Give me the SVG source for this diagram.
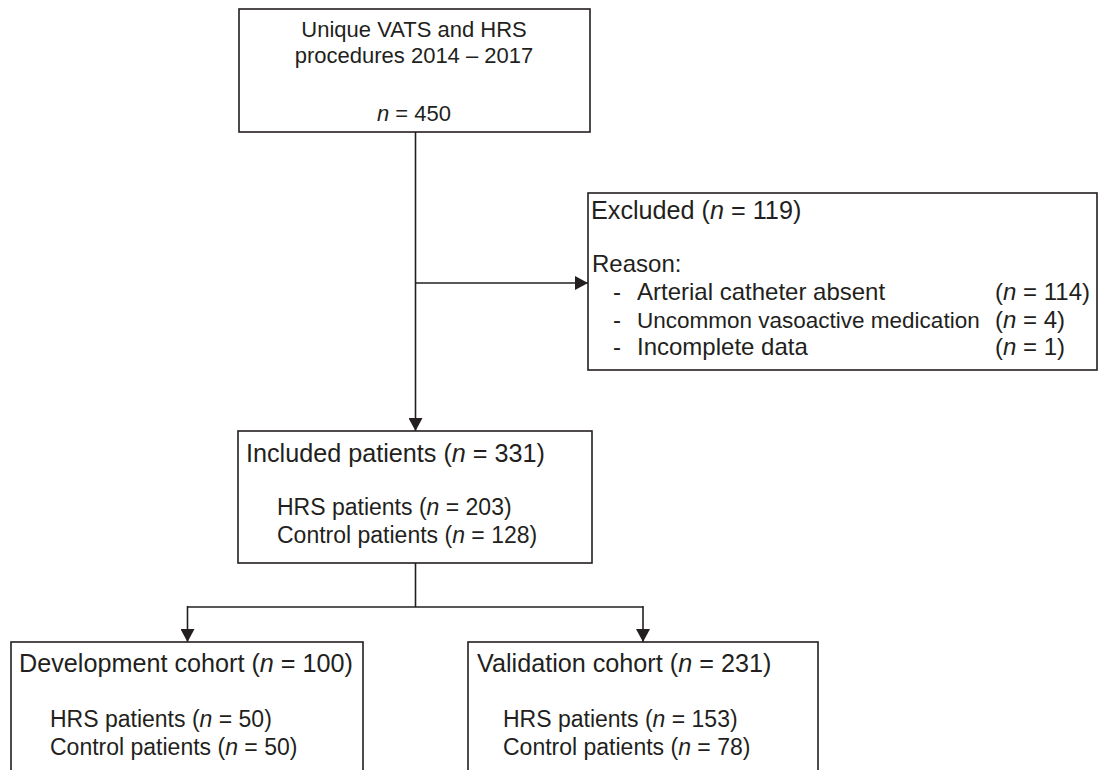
<svg xmlns="http://www.w3.org/2000/svg" width="1098" height="770" viewBox="0 0 1098 770">
<style>
.box{fill:#fff;stroke:#231f20;stroke-width:1.6}
.ln{fill:none;stroke:#231f20;stroke-width:1.6}
text{font-family:"Liberation Sans",Arial,sans-serif;fill:#231f20}
.t{font-size:25.2px}
.s{font-size:23px}
.m{font-size:22px}
.e{font-size:24px}
.e2{font-size:22.5px}
</style>
<defs>
<marker id="ah" viewBox="0 0 13 14" refX="13" refY="7" markerWidth="13" markerHeight="14" markerUnits="userSpaceOnUse" orient="auto">
<path d="M0,0 L13,7 L0,14 Z" fill="#231f20"/>
</marker>
</defs>
<rect width="1098" height="770" fill="#fff"/>
<g id="connectors">
<path class="ln" d="M415.5,132 V431" marker-end="url(#ah)"/>
<path class="ln" d="M415.5,283 H588" marker-end="url(#ah)"/>
<path class="ln" d="M415.5,563 V607"/>
<path class="ln" d="M187.5,607 H643"/>
<path class="ln" d="M187.5,606 V642" marker-end="url(#ah)"/>
<path class="ln" d="M643,606 V642" marker-end="url(#ah)"/>
</g>
<g id="node-procedures">
<rect class="box" x="239" y="9" width="351" height="123"/>
<text class="m" x="414" y="37" text-anchor="middle">Unique VATS and HRS</text>
<text class="m" x="414" y="63" text-anchor="middle">procedures 2014 – 2017</text>
<text class="m" x="414" y="121" text-anchor="middle"><tspan font-style="italic">n</tspan> = 450</text>
</g>
<g id="node-excluded">
<rect class="box" x="588" y="193" width="509" height="177"/>
<text class="t" x="591" y="219">Excluded (<tspan font-style="italic">n</tspan> = 119)</text>
<text class="e" x="592" y="272">Reason:</text>
<text class="e" x="613" y="300">-</text>
<text class="e" x="637" y="300">Arterial catheter absent</text>
<text class="e" x="995" y="300">(<tspan font-style="italic">n</tspan> = 114)</text>
<text class="e" x="613" y="328">-</text>
<text class="e2" x="637" y="328">Uncommon vasoactive medication</text>
<text class="e" x="995" y="328">(<tspan font-style="italic">n</tspan> = 4)</text>
<text class="e" x="613" y="355">-</text>
<text class="e" x="637" y="355">Incomplete data</text>
<text class="e" x="995" y="355">(<tspan font-style="italic">n</tspan> = 1)</text>
</g>
<g id="node-included">
<rect class="box" x="238" y="431" width="354" height="132"/>
<text class="t" x="246" y="462">Included patients (<tspan font-style="italic">n</tspan> = 331)</text>
<text class="s" x="277" y="515">HRS patients (<tspan font-style="italic">n</tspan> = 203)</text>
<text class="s" x="277" y="543">Control patients (<tspan font-style="italic">n</tspan> = 128)</text>
</g>
<g id="node-development">
<rect class="box" x="11" y="642" width="352" height="140"/>
<text class="t" x="19" y="672">Development cohort (<tspan font-style="italic">n</tspan> = 100)</text>
<text class="s" x="50" y="727">HRS patients (<tspan font-style="italic">n</tspan> = 50)</text>
<text class="s" x="50" y="755">Control patients (<tspan font-style="italic">n</tspan> = 50)</text>
</g>
<g id="node-validation">
<rect class="box" x="468" y="642" width="350" height="140"/>
<text class="t" x="477" y="672">Validation cohort (<tspan font-style="italic">n</tspan> = 231)</text>
<text class="s" x="503" y="727">HRS patients (<tspan font-style="italic">n</tspan> = 153)</text>
<text class="s" x="503" y="755">Control patients (<tspan font-style="italic">n</tspan> = 78)</text>
</g>
</svg>
